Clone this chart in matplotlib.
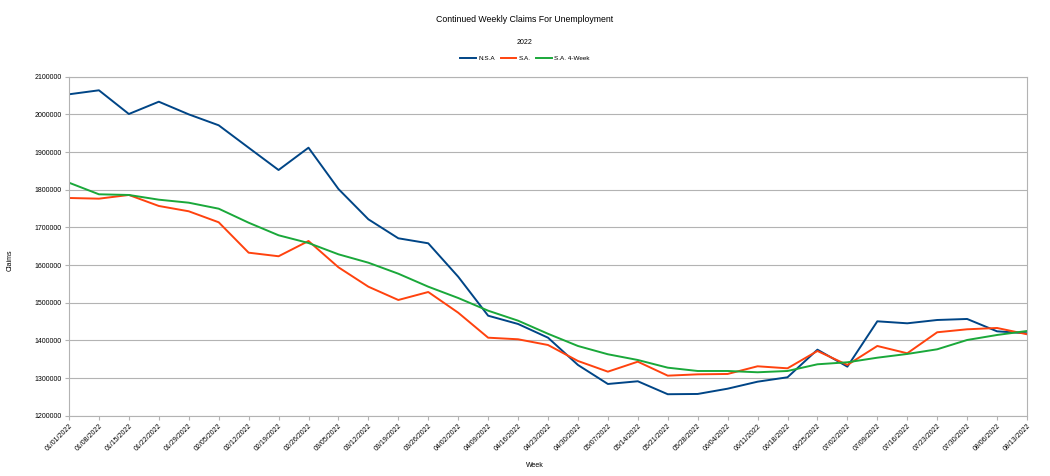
import matplotlib
matplotlib.use("Agg")
import matplotlib.pyplot as plt

weeks = ["01/01/2022", "01/08/2022", "01/15/2022", "01/22/2022", "01/29/2022",
         "02/05/2022", "02/12/2022", "02/19/2022", "02/26/2022", "03/05/2022",
         "03/12/2022", "03/19/2022", "03/26/2022", "04/02/2022", "04/09/2022",
         "04/16/2022", "04/23/2022", "04/30/2022", "05/07/2022", "05/14/2022",
         "05/21/2022", "05/28/2022", "06/04/2022", "06/11/2022", "06/18/2022",
         "06/25/2022", "07/02/2022", "07/09/2022", "07/16/2022", "07/23/2022",
         "07/30/2022", "08/06/2022", "08/13/2022"]

nsa = [2053300, 2063900, 2001000, 2033600, 2000000, 1971000, 1911500, 1852300,
       1911500, 1801900, 1721400, 1671000, 1657700, 1569000, 1465500, 1443500,
       1407100, 1334700, 1284200, 1291400, 1257000, 1257700, 1271700, 1290300,
       1302000, 1375300, 1330200, 1450600, 1445300, 1454100, 1456800, 1424000,
       1418800]

sa = [1778000, 1776200, 1786000, 1756800, 1742700, 1713500, 1632800, 1623300,
      1663800, 1594000, 1542500, 1507200, 1528400, 1473500, 1407100, 1402900,
      1387700, 1345300, 1316900, 1343400, 1306300, 1309800, 1310800, 1331200,
      1325800, 1371800, 1334700, 1385100, 1365700, 1421500, 1429400, 1432900,
      1416200]

sa4 = [1818600, 1787800, 1786000, 1773500, 1765500, 1749600, 1712400, 1679000,
       1658500, 1628500, 1606200, 1577000, 1542500, 1512500, 1478800, 1452300,
       1417500, 1385100, 1363100, 1347900, 1327500, 1318700, 1318700, 1315300,
       1318700, 1336500, 1341800, 1354000, 1363900, 1376300, 1401000, 1414300,
       1424900]

yticks = [1200000, 1300000, 1400000, 1500000, 1600000, 1700000, 1800000, 1900000,
          2000000, 2100000]

plt.rcParams['font.family'] = ['Liberation Sans', 'DejaVu Sans']

fig = plt.figure(figsize=(10.5, 4.76), dpi=100)
ax = fig.add_axes([69/1050, 1 - 415.7/476, (1027 - 69)/1050, (415.7 - 76.7)/476])

x = list(range(len(weeks)))
ax.plot(x, nsa, color='#004586', lw=1.4, label='N.S.A')
ax.plot(x, sa, color='#ff420e', lw=1.4, label='S.A.')
ax.plot(x, sa4, color='#1aa83a', lw=1.4, label='S.A. 4-Week')

ax.set_xlim(0, len(weeks) - 1)
ax.set_ylim(1200000, 2100000)
ax.set_yticks(yticks)
ax.set_yticklabels([str(v) for v in yticks], fontsize=5)
ax.set_xticks(x)
ax.set_xticklabels(weeks, rotation=45, ha='right', rotation_mode='anchor', fontsize=5)
ax.grid(axis='y', color='#b3b3b3', lw=0.8)
ax.set_axisbelow(True)
for s in ax.spines.values():
    s.set_color('#b3b3b3')
    s.set_linewidth(0.8)
ax.tick_params(axis='both', color='#b3b3b3', length=3, width=0.8, pad=2)

ax.set_ylabel('Claims', fontsize=5)
ax.yaxis.set_label_coords((14 - 69) / (1027 - 69), (415.7 - 260) / (415.7 - 76.7))
ax.set_xlabel('Week', fontsize=5)
ax.xaxis.set_label_coords((535 - 69) / (1027 - 69), -(462 - 415.7) / (415.7 - 76.7))

fig.text(0.5, 1 - 19/476, 'Continued Weekly Claims For Unemployment', ha='center', va='center', fontsize=6.3)
fig.text(0.5, 1 - 42/476, '2022', ha='center', va='center', fontsize=5)
fig.legend(loc='center', bbox_to_anchor=(0.5, 1 - 58/476), ncol=3, frameon=False,
           fontsize=4.6, handlelength=2.4, columnspacing=0.9, handletextpad=0.4)

fig.savefig('out.png', dpi=100)
